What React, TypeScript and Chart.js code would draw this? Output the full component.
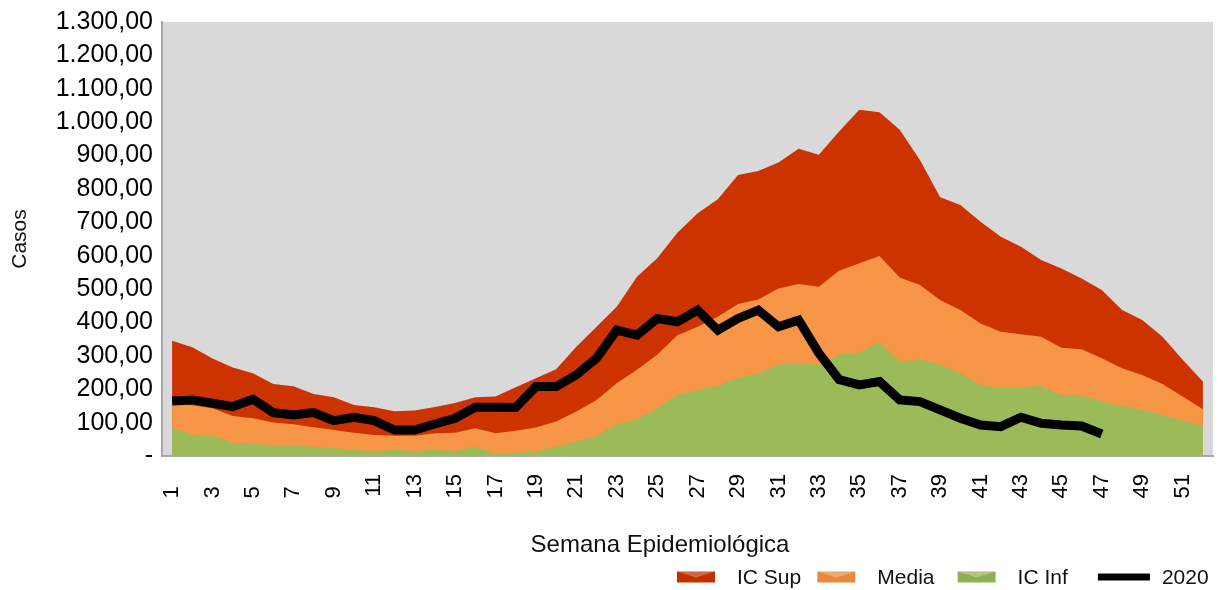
import React, { useEffect, useRef } from 'react';
import { Chart, registerables } from 'chart.js';

Chart.register(...registerables);

const WEEKS = Array.from({ length: 52 }, (_, i) => String(i + 1));

const IC_SUP = [
  345, 326, 292, 265, 248, 216, 209, 186, 176, 153,
  146, 134, 136, 147, 159, 176, 178, 206, 233, 260,
  327, 387, 447, 537, 592, 669, 727, 769, 842, 854,
  879, 920, 902, 972, 1037, 1030, 977, 887, 775, 752,
  702, 657, 627, 587, 562, 532, 497, 437, 407, 357,
  288, 223,
];

const MEDIA = [
  158, 152, 143, 120, 113, 100, 95, 86, 78, 70,
  63, 61, 61, 68, 70, 83, 68, 76, 85, 103,
  133, 168, 218, 258, 303, 362, 387, 417, 455, 469,
  502, 515, 507, 555, 577, 599, 535, 512, 467, 437,
  397, 372, 365, 357, 324, 320, 293, 263, 243, 216,
  178, 140,
];

const IC_INF = [
  86, 63, 61, 38, 38, 31, 31, 28, 23, 18,
  15, 18, 15, 19, 15, 28, 6, 10, 13, 28,
  43, 60, 95, 110, 143, 183, 198, 210, 235, 246,
  273, 278, 273, 305, 310, 340, 283, 288, 273, 248,
  213, 203, 206, 210, 183, 183, 163, 150, 138, 123,
  106, 90,
];

const Y2020 = [
  165, 168, 158, 148, 170, 130, 123, 130, 106, 116,
  106, 78, 78, 96, 113, 146, 146, 145, 208, 208,
  243, 293, 377, 362, 412, 402, 437, 377, 412, 437,
  387, 407, 308, 229, 213, 223, 168, 163, 138, 113,
  93, 88, 116, 98, 93, 90, 66, null, null, null,
  null, null,
];

const Y_TICK_LABELS = [
  '-', '100,00', '200,00', '300,00', '400,00', '500,00', '600,00',
  '700,00', '800,00', '900,00', '1.000,00', '1.100,00', '1.200,00', '1.300,00',
];

const SERIES_NAMES = ['IC Sup', 'Media', 'IC Inf', '2020'];
const X_TITLE = 'Semana Epidemiológica';
const Y_TITLE = 'Casos';
const COLORS = ['#CC3300', '#F79646', '#9BBB59', '#000000'];
const SWATCH_COLORS = ['#C23000', '#E8893E', '#8FB050', '#000000'];

const FONT = '"Liberation Sans", Arial, sans-serif';

const plotBg = {
  id: 'plotBg',
  beforeDraw(chart: any) {
    const { ctx, chartArea: a } = chart;
    ctx.save();
    ctx.fillStyle = '#D9D9D9';
    ctx.fillRect(a.left, a.top, a.right - a.left, a.bottom - a.top);
    ctx.restore();
  },
};

const customLegend = {
  id: 'customLegend',
  afterDraw(chart: any) {
    const { ctx } = chart;
    const ds = chart.data.datasets;
    ctx.save();
    // x-axis title
    ctx.font = `24px ${FONT}`;
    ctx.textAlign = 'center';
    ctx.textBaseline = 'middle';
    ctx.fillStyle = '#111';
    ctx.fillText(X_TITLE, 660, 545);

    // legend
    ctx.font = `21px ${FONT}`;
    ctx.textBaseline = 'middle';
    ctx.textAlign = 'left';
    const pitch = 140.3;
    const x0 = 677;
    const yc = 577;
    ds.forEach((d: any, i: number) => {
      const isLine = !d.fill;
      const x = x0 + i * pitch;
      if (isLine) {
        ctx.fillStyle = '#000';
        ctx.fillRect(x, yc - 3.5, 52, 7);
        ctx.fillStyle = '#111';
        ctx.fillText(d.label, x + 64, yc + 1);
      } else {
        const w = 38;
        const h = 11;
        const top = yc - h / 2;
        ctx.fillStyle = SWATCH_COLORS[i];
        ctx.fillRect(x, top, w, h);
        ctx.fillStyle = 'rgba(255,255,255,0.28)';
        ctx.beginPath();
        ctx.moveTo(x, top);
        ctx.lineTo(x + w, top);
        ctx.lineTo(x + w / 2, top + h * 0.55);
        ctx.closePath();
        ctx.fill();
        ctx.fillStyle = '#111';
        ctx.fillText(d.label, x + 60, yc + 1);
      }
    });
    ctx.restore();
  },
};

export default function App() {
  const ref = useRef<HTMLCanvasElement | null>(null);

  useEffect(() => {
    if (!ref.current) return;
    const areaDs = (label: string, data: number[], color: string, order: number) => ({
      type: 'line' as const,
      label,
      data,
      backgroundColor: color,
      borderColor: color,
      borderWidth: 0,
      pointRadius: 0,
      pointHoverRadius: 0,
      fill: 'origin',
      tension: 0,
      order,
    });
    const chart = new Chart(ref.current, {
      type: 'line',
      data: {
        labels: WEEKS,
        datasets: [
          areaDs(SERIES_NAMES[0], IC_SUP, COLORS[0], 3),
          areaDs(SERIES_NAMES[1], MEDIA, COLORS[1], 2),
          areaDs(SERIES_NAMES[2], IC_INF, COLORS[2], 1),
          {
            type: 'line',
            label: SERIES_NAMES[3],
            data: Y2020,
            borderColor: COLORS[3],
            backgroundColor: COLORS[3],
            borderWidth: 9,
            pointRadius: 0,
            pointHoverRadius: 0,
            fill: false,
            tension: 0,
            spanGaps: false,
            order: 0,
          } as any,
        ],
      },
      options: {
        responsive: false,
        animation: false,
        events: [],
        layout: { padding: { left: 0, right: 11, top: 22, bottom: 30 } },
        plugins: {
          legend: { display: false },
          tooltip: { enabled: false },
        },
        scales: {
          x: {
            type: 'category',
            offset: true,
            grid: { display: false, drawTicks: false },
            border: { display: true, color: '#A8A8A8', width: 2 },
            ticks: {
              autoSkip: false,
              maxRotation: 90,
              minRotation: 90,
              padding: 18,
              color: '#000',
              font: { family: FONT, size: 22 },
              callback: (_v: any, i: number) =>
                i % 2 === 0 ? (WEEKS[i].length === 1 ? WEEKS[i] + '  ' : WEEKS[i]) : '',
            },
            title: { display: false },
            afterFit: (scale: any) => {
              scale.height = 104;
              scale.paddingLeft = 0;
              scale.paddingRight = 0;
            },
          },
          y: {
            min: 0,
            max: 1300,
            grid: { display: false, drawTicks: false },
            border: { display: true, color: '#A8A8A8', width: 2 },
            ticks: {
              stepSize: 100,
              padding: 9,
              color: '#000',
              font: { family: FONT, size: 25 },
              callback: (v: any) => Y_TICK_LABELS[Math.round(Number(v) / 100)] ?? '',
            },
            title: {
              display: true,
              text: Y_TITLE,
              color: '#111',
              font: { family: FONT, size: 21 },
              padding: { top: 8, bottom: 0 },
            },
            afterFit: (scale: any) => {
              scale.width = 162;
              scale.paddingTop = 0;
              scale.paddingBottom = 0;
            },
          },
        },
      },
      plugins: [plotBg, customLegend],
    });
    return () => chart.destroy();
  }, []);

  return (
    <div style={{ position: 'fixed', left: 0, top: 0, width: 1224, height: 590, background: '#fff' }}>
      <canvas ref={ref} width={1224} height={590} style={{ display: 'block', width: 1224, height: 590 }} />
    </div>
  );
}
